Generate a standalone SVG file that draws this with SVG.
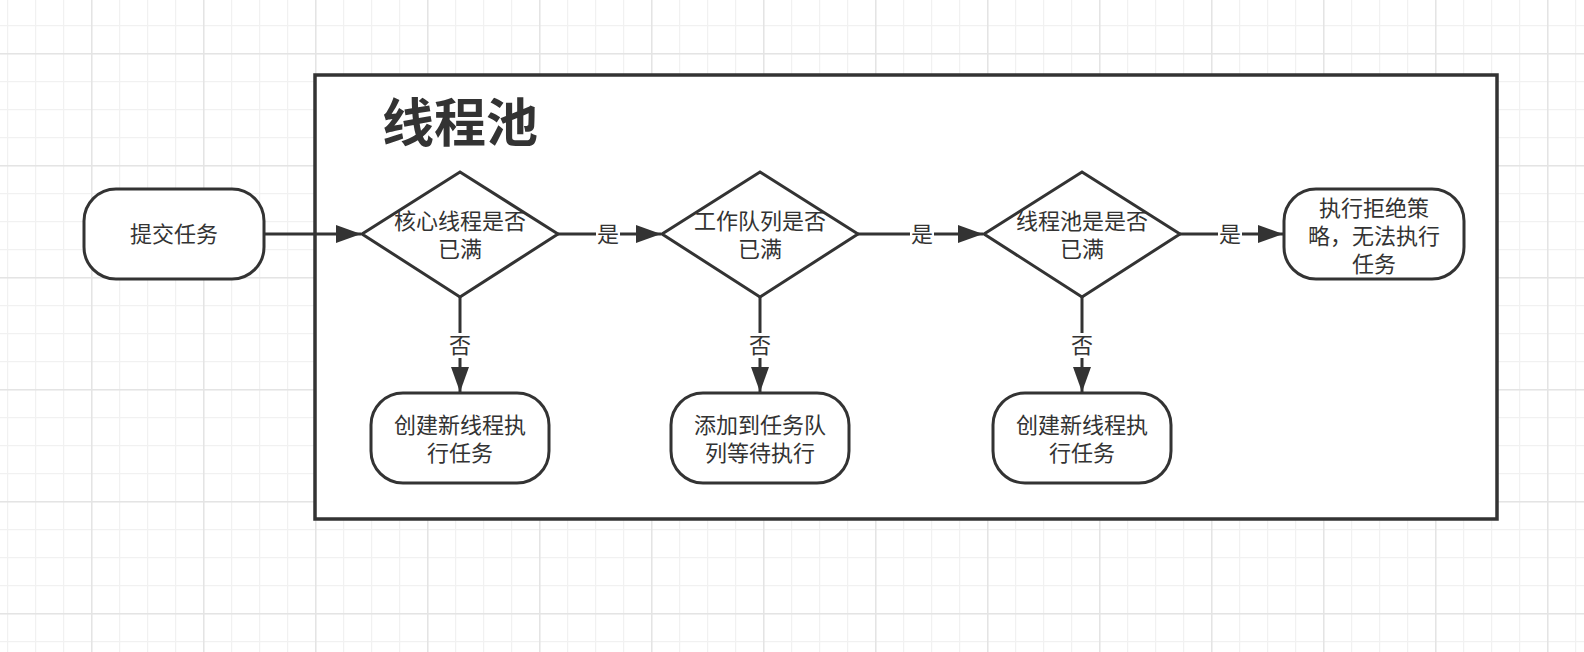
<svg xmlns="http://www.w3.org/2000/svg" width="1584" height="652" viewBox="0 0 1584 652">
<defs>
<pattern id="minor" patternUnits="userSpaceOnUse" x="7" y="25" width="28" height="28"><path d="M0.5 0V28M0 0.5H28" stroke="#f1f1f1" stroke-width="1.5" fill="none"/></pattern>
<pattern id="major" patternUnits="userSpaceOnUse" x="91" y="53" width="112" height="112"><path d="M0.5 0V112M0 0.5H112" stroke="#e4e4e4" stroke-width="2" fill="none"/></pattern>
<marker id="arr" markerUnits="userSpaceOnUse" markerWidth="26" markerHeight="18" refX="25" refY="9" orient="auto"><path d="M0 0L25 9L0 18Z" fill="#333"/></marker>
<style>
.node{fill:#fff;stroke:#333;stroke-width:3}
.t{font-family:"Liberation Sans","Noto Sans CJK SC",sans-serif;font-size:22px;fill:#333;text-anchor:middle}
.edge{stroke:#333;stroke-width:3;fill:none;marker-end:url(#arr)}
.lbl{fill:#fff}
</style>
</defs>
<rect width="1584" height="652" fill="#fff"/>
<rect width="1584" height="652" fill="url(#minor)"/>
<rect width="1584" height="652" fill="url(#major)"/>
<g id="pool">
<rect x="315" y="75" width="1182" height="444" fill="#fff" stroke="#333" stroke-width="3.5"/>
<text x="460" y="142" font-family="'Noto Sans CJK SC',sans-serif" font-size="52" font-weight="bold" fill="#333" text-anchor="middle">线程池</text>
</g>
<g id="start"><rect class="node" x="84" y="189" width="180" height="90" rx="32" ry="32"/><text class="t" x="174" y="242">提交任务</text></g>
<g id="d1"><path class="node" d="M460 172L558 234L460 297L362 234Z"/><text class="t" x="460" y="229">核心线程是否</text><text class="t" x="460" y="257">已满</text></g>
<g id="d2"><path class="node" d="M760 172L858 234L760 297L662 234Z"/><text class="t" x="760" y="229">工作队列是否</text><text class="t" x="760" y="257">已满</text></g>
<g id="d3"><path class="node" d="M1082 172L1180 234L1082 297L984 234Z"/><text class="t" x="1082" y="229">线程池是是否</text><text class="t" x="1082" y="257">已满</text></g>
<g id="reject"><rect class="node" x="1284" y="189" width="180" height="90" rx="32" ry="32"/><text class="t" x="1374" y="216">执行拒绝策</text><text class="t" x="1374" y="244">略，无法执行</text><text class="t" x="1374" y="272">任务</text></g>
<g id="b1"><rect class="node" x="371" y="393" width="178" height="90" rx="32" ry="32"/><text class="t" x="460" y="433">创建新线程执</text><text class="t" x="460" y="461">行任务</text></g>
<g id="b2"><rect class="node" x="671" y="393" width="178" height="90" rx="32" ry="32"/><text class="t" x="760" y="433">添加到任务队</text><text class="t" x="760" y="461">列等待执行</text></g>
<g id="b3"><rect class="node" x="993" y="393" width="178" height="90" rx="32" ry="32"/><text class="t" x="1082" y="433">创建新线程执</text><text class="t" x="1082" y="461">行任务</text></g>
<g id="connectors">
<path class="edge" d="M264 234H361"/>
<path class="edge" d="M558 234H661"/>
<path class="edge" d="M858 234H983"/>
<path class="edge" d="M1180 234H1283"/>
<path class="edge" d="M460 297V392"/>
<path class="edge" d="M760 297V392"/>
<path class="edge" d="M1082 297V392"/>
<rect class="lbl" x="596" y="222" width="24" height="24"/><text class="t" x="608" y="242">是</text>
<rect class="lbl" x="910" y="222" width="24" height="24"/><text class="t" x="922" y="242">是</text>
<rect class="lbl" x="1218" y="222" width="24" height="24"/><text class="t" x="1230" y="242">是</text>
<rect class="lbl" x="448" y="333" width="24" height="25"/><text class="t" x="460" y="353">否</text>
<rect class="lbl" x="748" y="333" width="24" height="25"/><text class="t" x="760" y="353">否</text>
<rect class="lbl" x="1070" y="333" width="24" height="25"/><text class="t" x="1082" y="353">否</text>
</g>
</svg>
